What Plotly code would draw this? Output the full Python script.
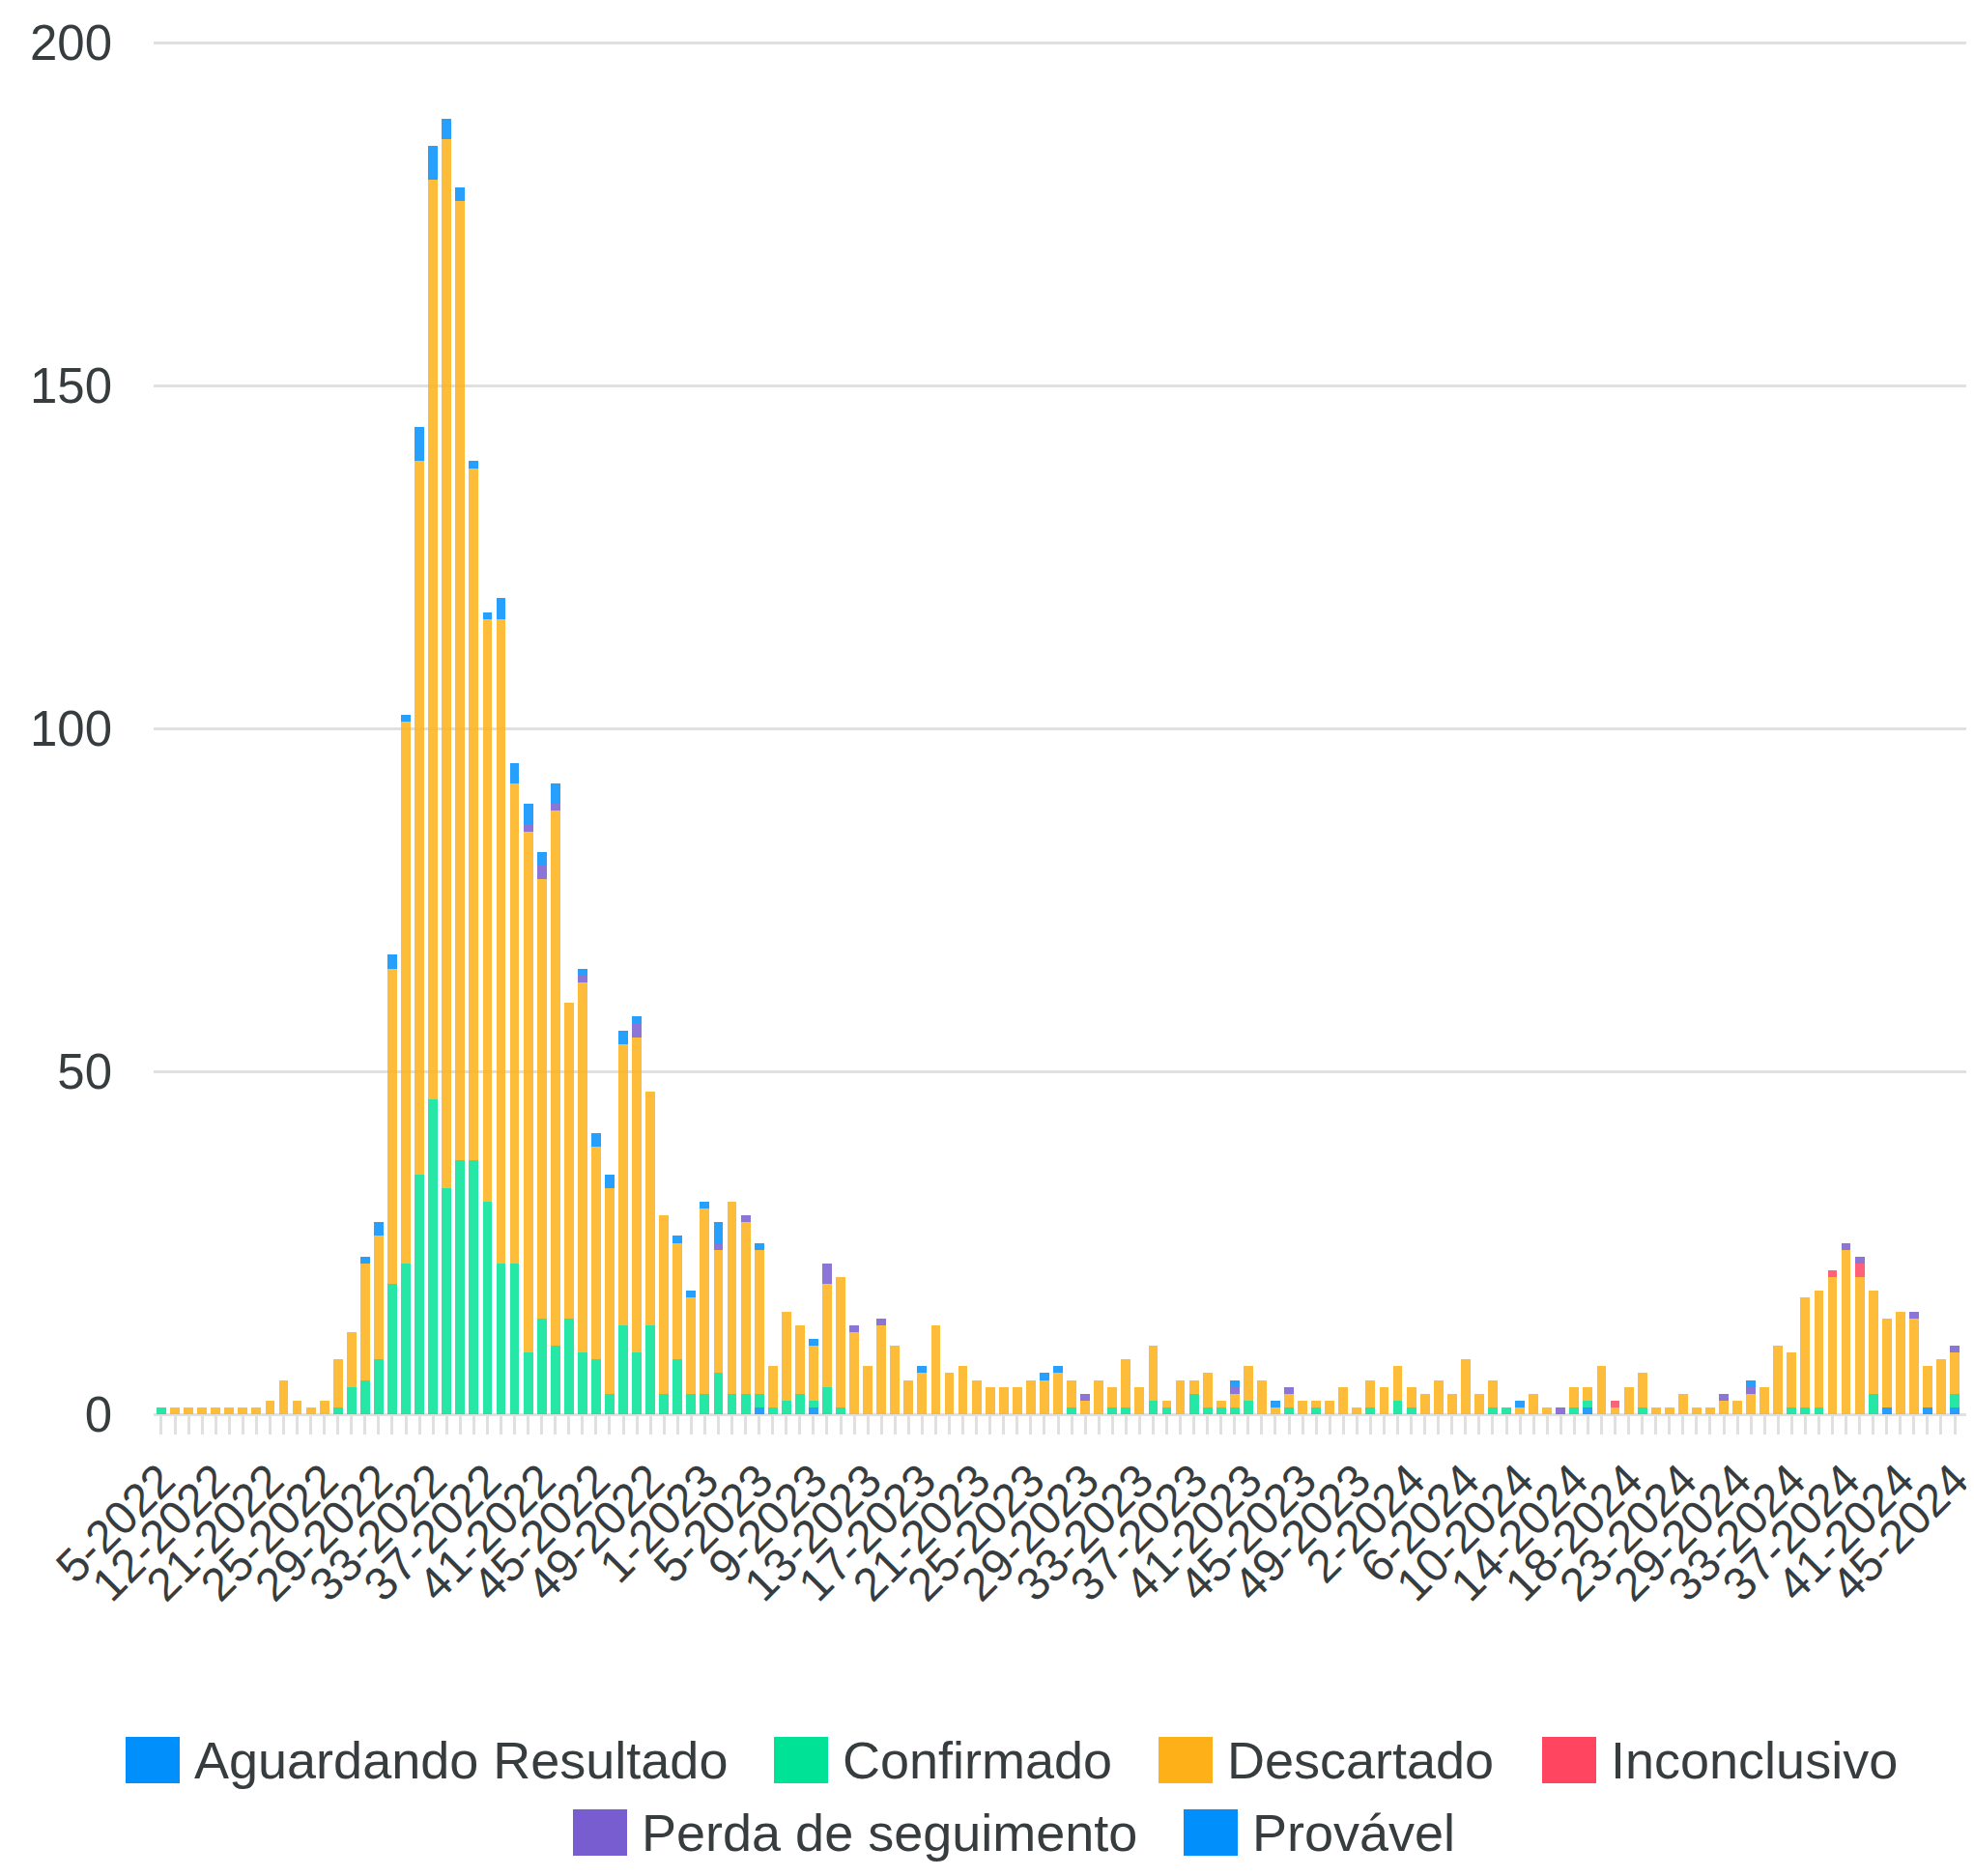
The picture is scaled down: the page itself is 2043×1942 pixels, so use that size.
import plotly.graph_objects as go

# ---- data -------------------------------------------------------------
weeks = (
    ["5-2022", "7-2022", "9-2022", "10-2022", "12-2022", "14-2022", "16-2022", "19-2022"]
    + [f"{w}-2022" for w in range(21, 53)]
    + [f"{w}-2023" for w in range(1, 53)]
    + [f"{w}-2024" for w in range(2, 20)]
    + ["21-2024", "22-2024", "23-2024", "24-2024", "26-2024", "27-2024"]
    + [f"{w}-2024" for w in range(29, 46)]
)

aguardando = [0]*44 + [1] + [0]*3 + [1] + [0]*56 + [1] + [0]*21 + [1] + [0]*2 + [1] + [0]*1 + [1]
confirmado = [
    1, 0, 0, 0, 0, 0, 0, 0, 0, 0, 0, 0, 0, 1, 4, 5, 8, 19, 22, 35,
    46, 33, 37, 37, 31, 22, 22, 9, 14, 10, 14, 9, 8, 3, 13, 9, 13, 3, 8, 3,
    3, 6, 3, 3, 2, 1, 2, 3, 1, 4, 1, 0, 0, 0, 0, 0, 0, 0, 0, 0,
    0, 0, 0, 0, 0, 0, 0, 1, 0, 0, 1, 1, 0, 2, 1, 0, 3, 1, 1, 1,
    2, 0, 0, 1, 0, 1, 0, 0, 0, 1, 0, 2, 1, 0, 0, 0, 0, 0, 1, 1,
    0, 0, 0, 0, 1, 1, 0, 0, 0, 1, 0, 0, 0, 0, 0, 0, 0, 0, 0, 0,
    1, 1, 1, 0, 0, 0, 3, 0, 0, 0, 0, 0, 2,
]
descartado = [
    0, 1, 1, 1, 1, 1, 1, 1, 2, 5, 2, 1, 2, 7, 8, 17, 18, 46, 79, 104,
    134, 153, 140, 101, 85, 94, 70, 76, 64, 78, 46, 54, 31, 30, 41, 46, 34, 26, 17, 14,
    27, 18, 28, 25, 21, 6, 13, 10, 8, 15, 19, 12, 7, 13, 10, 5, 6, 13, 6, 7,
    5, 4, 4, 4, 5, 5, 6, 4, 2, 5, 3, 7, 4, 8, 1, 5, 2, 5, 1, 2,
    5, 5, 1, 2, 2, 1, 2, 4, 1, 4, 4, 5, 3, 3, 5, 3, 8, 3, 4, 0,
    1, 3, 1, 0, 3, 2, 7, 1, 4, 5, 1, 1, 3, 1, 1, 2, 2, 3, 4, 10,
    8, 16, 17, 20, 24, 20, 15, 13, 15, 14, 6, 8, 6,
]
inconclusivo = [0]*107 + [1] + [0]*15 + [1, 0, 2] + [0]*7
perda = [
    0, 0, 0, 0, 0, 0, 0, 0, 0, 0, 0, 0, 0, 0, 0, 0, 0, 0, 0, 0,
    0, 0, 0, 0, 0, 0, 0, 1, 2, 1, 0, 1, 0, 0, 0, 2, 0, 0, 0, 0,
    0, 1, 0, 1, 0, 0, 0, 0, 0, 3, 0, 1, 0, 1, 0, 0, 0, 0, 0, 0,
    0, 0, 0, 0, 0, 0, 0, 0, 1, 0, 0, 0, 0, 0, 0, 0, 0, 0, 0, 1,
    0, 0, 0, 1, 0, 0, 0, 0, 0, 0, 0, 0, 0, 0, 0, 0, 0, 0, 0, 0,
    0, 0, 0, 1, 0, 0, 0, 0, 0, 0, 0, 0, 0, 0, 0, 1, 0, 1, 0, 0,
    0, 0, 0, 0, 1, 1, 0, 0, 0, 1, 0, 0, 1,
]
provavel = [
    0, 0, 0, 0, 0, 0, 0, 0, 0, 0, 0, 0, 0, 0, 0, 1, 2, 2, 1, 5,
    5, 3, 2, 1, 1, 3, 3, 3, 2, 3, 0, 1, 2, 2, 2, 1, 0, 0, 1, 1,
    1, 3, 0, 0, 1, 0, 0, 0, 1, 0, 0, 0, 0, 0, 0, 0, 1, 0, 0, 0,
    0, 0, 0, 0, 0, 1, 1, 0, 0, 0, 0, 0, 0, 0, 0, 0, 0, 0, 0, 1,
    0, 0, 1, 0, 0, 0, 0, 0, 0, 0, 0, 0, 0, 0, 0, 0, 0, 0, 0, 0,
    1, 0, 0, 0, 0, 0, 0, 0, 0, 0, 0, 0, 0, 0, 0, 0, 0, 1, 0, 0,
    0, 0, 0, 0, 0, 0, 0, 0, 0, 0, 0, 0, 0,
]

series_names = ["Aguardando Resultado", "Confirmado", "Descartado",
                "Inconclusivo", "Perda de seguimento", "Provável"]
series_values = [aguardando, confirmado, descartado, inconclusivo, perda, provavel]
series_colors = ["#008FFB", "#00E396", "#FEB019", "#FF4560", "#775DD0", "#008FFB"]

y_ticks = [0, 50, 100, 150, 200]

# ---- layout constants (pixels in the figure) ---------------------------
W, H = 2027, 1926
ML, MT, MB = 151, 33, 470
PLOT_BOTTOM = H - MB
# legend: (row centre y, marker left x) per entry, marker 56x48, text offset 70
legend_pos = [(1814, 122), (1814, 793), (1814, 1191), (1814, 1588),
              (1889, 585), (1889, 1217)]
MARK_W, MARK_H, TEXT_DX = 56, 48, 70


def px_x(x):
    return (x - ML) / (W - ML)


def px_y(y):
    return (PLOT_BOTTOM - y) / (PLOT_BOTTOM - MT)


# ---- figure -----------------------------------------------------------
n = len(weeks)
xpos = list(range(n))

fig = go.Figure()
for name, vals, col in zip(series_names, series_values, series_colors):
    vals = (list(vals) + [0]*n)[:n]
    fig.add_trace(go.Bar(
        x=xpos, y=vals, name=name, showlegend=False,
        marker=dict(color=col, opacity=0.85, line=dict(width=0)),
        hovertext=weeks,
    ))

FONT = "Liberation Sans, Arial, Helvetica, sans-serif"
TXT = "#373d3f"
GRID = "#e0e0e0"

shapes, annotations = [], []
for (cy, lx), name, col in zip(legend_pos, series_names, series_colors):
    shapes.append(dict(type="rect", xref="paper", yref="paper",
                       x0=px_x(lx), x1=px_x(lx + MARK_W),
                       y0=px_y(cy + MARK_H / 2), y1=px_y(cy - MARK_H / 2),
                       fillcolor=col, line=dict(width=0), layer="above"))
    annotations.append(dict(text=name, xref="paper", yref="paper",
                            x=px_x(lx + TEXT_DX), y=px_y(cy),
                            xanchor="left", yanchor="middle", showarrow=False,
                            borderpad=0,
                            font=dict(size=54, color=TXT, family=FONT)))

fig.update_layout(
    width=W, height=H,
    margin=dict(l=ML, r=0, t=MT, b=MB, pad=0, autoexpand=False),
    barmode="stack", bargap=0.3,
    plot_bgcolor="white", paper_bgcolor="white",
    font=dict(family=FONT, color=TXT, size=48),
    showlegend=False,
    shapes=shapes, annotations=annotations,
)
fig.update_xaxes(
    range=[-0.565, 132.85], automargin=False,
    tickmode="array", tickvals=xpos[::4], ticktext=weeks[::4],
    tickangle=-45, tickfont=dict(size=48, color=TXT),
    ticklabeloverflow="allow",
    ticks="outside", ticklen=20, tickwidth=3, tickcolor=GRID,
    minor=dict(ticks="outside", dtick=1, tick0=0, ticklen=20, tickwidth=3, tickcolor=GRID),
    showgrid=False, showline=False, zeroline=False,
)
fig.update_yaxes(
    range=[0, 200.5], tickvals=y_ticks, automargin=False,
    tickfont=dict(size=51, color=TXT), ticklabelstandoff=42,
    showgrid=True, gridcolor=GRID, gridwidth=3,
    zeroline=True, zerolinecolor=GRID, zerolinewidth=3,
    showline=False, ticks="",
)

fig.write_html("out.html")
